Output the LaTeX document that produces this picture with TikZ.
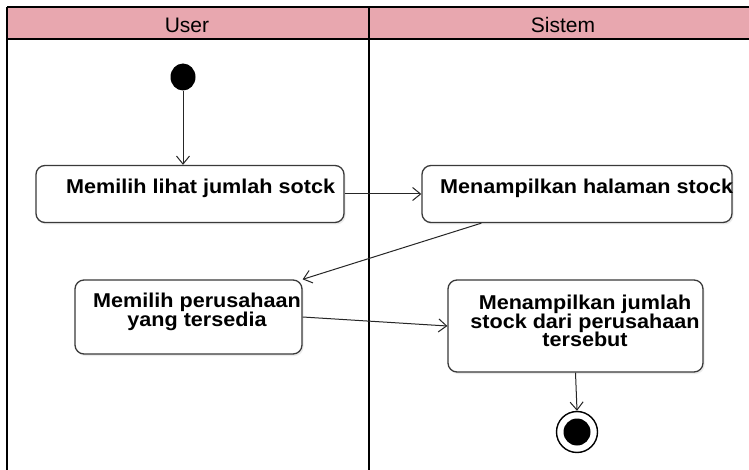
\documentclass[tikz,border=0pt]{standalone}
\usepackage{fontspec}
\setmainfont{Liberation Sans}
\newfontfamily\actfont[FakeStretch=1.08]{Liberation Sans}
\usetikzlibrary{arrows.meta,shadows,shapes.geometric}
\definecolor{lanehead}{HTML}{E8A7AF}
\definecolor{boxline}{HTML}{3A3A3A}
\begin{document}
\begin{tikzpicture}[x=1pt,y=-1pt,
  action/.style={draw=boxline,line width=1.3pt,rounded corners=9pt,fill=white,
    drop shadow={shadow xshift=1.5pt,shadow yshift=-2pt,opacity=0.15}},
  label/.style={font=\actfont\fontsize{20}{18.7}\selectfont\bfseries,align=center,inner sep=0pt},
  lanetitle/.style={font=\fontsize{21}{23}\selectfont,anchor=base,inner sep=0pt},
  flow/.style={line width=1pt,draw=black!85,-{Straight Barb[length=8pt,width=13pt,line width=1pt]}},
  lane/.style={line width=2pt}]
\useasboundingbox (0,0) rectangle (749,470);
\fill[white] (0,0) rectangle (749,470);
% swimlane headers
\fill[lanehead] (7,7) rectangle (749,39);
\draw[lane] (7,7) -- (749,7);
\draw[lane] (7,39) -- (749,39);
\draw[lane] (7,7) -- (7,470);
\draw[lane] (369,7) -- (369,470);
\node[lanetitle] (hUser) at (187,33) {User};
\node[lanetitle] (hSistem) at (563,33) {Sistem};
% start and end
\node[ellipse,fill=black,minimum width=25pt,minimum height=27pt,inner sep=0pt] (start) at (183,77) {};
\node[circle,draw=black,line width=1.4pt,minimum size=41pt,inner sep=0pt,fill=white] (final) at (577,432) {};
\node[circle,fill=black,minimum size=27pt,inner sep=0pt] (finalIn) at (577,432) {};
% actions
\node[action,minimum width=308pt,minimum height=57pt] (a1) at (190,194) {};
\node[label,anchor=west] (t1) at (66,188) {Memilih lihat jumlah sotck};
\node[action,minimum width=310pt,minimum height=57pt] (a2) at (577,194) {};
\node[label,anchor=west] (t2) at (440,188) {Menampilkan halaman stock};
\node[action,minimum width=227pt,minimum height=74pt] (a3) at (188.5,317) {};
\node[label] (t3) at (197,312) {Memilih perusahaan\\yang tersedia};
\node[action,minimum width=255pt,minimum height=92pt] (a4) at (575.5,326) {};
\node[label] (t4) at (585,321) {Menampilkan jumlah\\stock dari perusahaan\\tersebut};
% flows
\draw[flow] (start) -- (a1.north -| start);
\draw[flow] (a1.east) -- (a2.west);
\draw[flow] (a2.south west) ++(60,0) coordinate (c2) (c2) -- (a3.north east);
\draw[flow] (a3.east) -- (a4.west);
\draw[flow] (a4.south) -- (final.north);
\end{tikzpicture}
\end{document}
